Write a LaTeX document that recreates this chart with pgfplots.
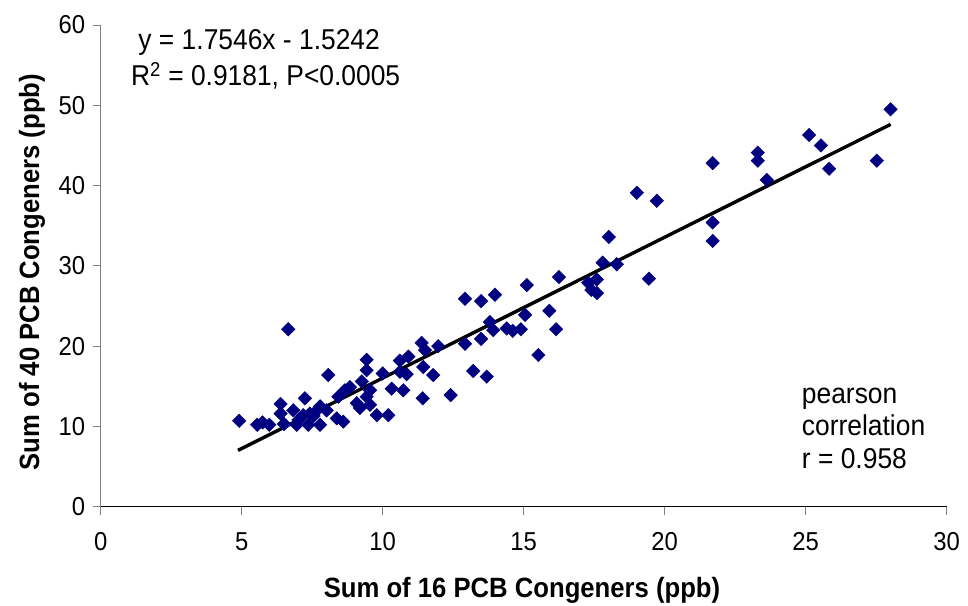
\documentclass[border=0pt]{standalone}
\usepackage{fontspec}
\setmainfont{Liberation Sans}[FakeStretch=0.92]
\usepackage{pgfplots}
\pgfplotsset{compat=1.18}
\definecolor{navy}{RGB}{0,0,128}
\definecolor{axgray}{RGB}{128,128,128}
\begin{document}
\begin{tikzpicture}
\path[use as bounding box] (-100.7bp,-99.3bp) rectangle (867.3bp,506.7bp);
\begin{axis}[
  at={(0,0)}, anchor=south west,
  scale only axis, width=846bp, height=481.7bp,
  xmin=0, xmax=30, ymin=0, ymax=60,
  xtick={0,5,...,30}, ytick={0,10,...,60},
  axis lines=left, axis line style={-},
  x axis line style={black, line width=1bp},
  y axis line style={axgray, line width=1bp},
  tick align=outside, major tick length=8bp,
  tick style={axgray, line width=1bp},
  minor tick num=0,
  /pgf/number format/assume math mode=true,
  ticklabel style={font=\fontsize{26}{26}\selectfont},
  xticklabel shift=14bp,
  yticklabel shift=4bp,
  xlabel={Sum of 16 PCB Congeners (ppb)},
  ylabel={Sum of 40 PCB Congeners (ppb)},
  label style={font=\bfseries\fontsize{28}{28}\selectfont},
  xlabel style={at={(axis description cs:0.498,-0.1729)}, anchor=center},
  ylabel style={at={(axis description cs:-0.0812,0.487)}, anchor=center},
  clip=false,
]
\addplot[only marks, mark=square*, mark size=4.8bp,
  mark options={rotate=45, fill=navy, draw=navy}] coordinates {
(4.91,10.7) (5.55,10.2) (5.74,10.5) (5.98,10.2) (6.38,12.8) (6.38,11.6)
(6.50,10.3) (6.65,22.1) (6.83,12.0) (6.95,10.2) (7.01,10.8) (7.18,11.4)
(7.24,13.5) (7.36,10.2) (7.42,11.6) (7.55,11.3) (7.64,11.9) (7.78,12.5)
(7.78,10.2) (8.01,12.0) (8.07,16.4) (8.37,11.0) (8.43,13.7) (8.60,10.6)
(8.66,14.5) (8.84,14.9) (9.08,12.9) (9.19,12.3) (9.26,15.6) (9.43,18.3)
(9.43,17.0) (9.43,13.7) (9.55,14.5) (9.55,12.7) (9.79,11.4) (10.0,16.6)
(10.2,11.4) (10.32,14.7) (10.61,18.2) (10.91,18.7) (10.61,16.8) (10.85,16.5)
(10.73,14.5) (11.38,20.4) (11.5,19.5) (11.44,17.4) (11.79,16.4) (11.42,13.5)
(11.97,20.0) (12.41,13.9) (12.92,25.9) (12.92,20.3) (13.21,16.9) (13.49,25.6)
(13.49,20.9) (13.69,16.2) (13.98,26.4) (13.8,23.0) (13.92,22.0) (14.4,22.2)
(14.61,21.9) (14.9,22.1) (15.05,23.9) (15.11,27.6) (15.52,18.9) (15.91,24.4)
(16.15,22.1) (16.25,28.6) (17.29,27.9) (17.59,28.3) (17.4,27.0) (17.6,26.6)
(17.8,30.4) (18.3,30.2) (18.02,33.6) (19.01,39.1) (19.72,38.1) (19.44,28.4)
(21.7,42.8) (21.7,35.4) (21.7,33.1) (23.3,44.1) (23.3,43.1) (23.62,40.7)
(25.12,46.3) (25.54,45.0) (25.83,42.1) (27.52,43.1) (28.01,49.5)
};
\addplot[black, line width=3.4bp] coordinates {(4.87,7.02) (28.01,47.62)};
\node[anchor=base, inner sep=0pt, font=\fontsize{28.8}{28.8}\selectfont]
  at (axis cs:5.62,57.0) {y = 1.7546x - 1.5242};
\node[anchor=base, inner sep=0pt, font=\fontsize{28.8}{28.8}\selectfont]
  at (axis cs:5.85,52.5) {R\textsuperscript{2} = 0.9181, P<0.0005};
\node[anchor=base west, inner sep=0pt, font=\fontsize{28.8}{28.8}\selectfont]
  at (axis cs:24.86,12.88) {pearson};
\node[anchor=base west, inner sep=0pt, font=\fontsize{28.8}{28.8}\selectfont]
  at (axis cs:24.86,8.93) {correlation};
\node[anchor=base west, inner sep=0pt, font=\fontsize{28.8}{28.8}\selectfont]
  at (axis cs:24.86,4.82) {r = 0.958};
\end{axis}
\end{tikzpicture}
\end{document}
